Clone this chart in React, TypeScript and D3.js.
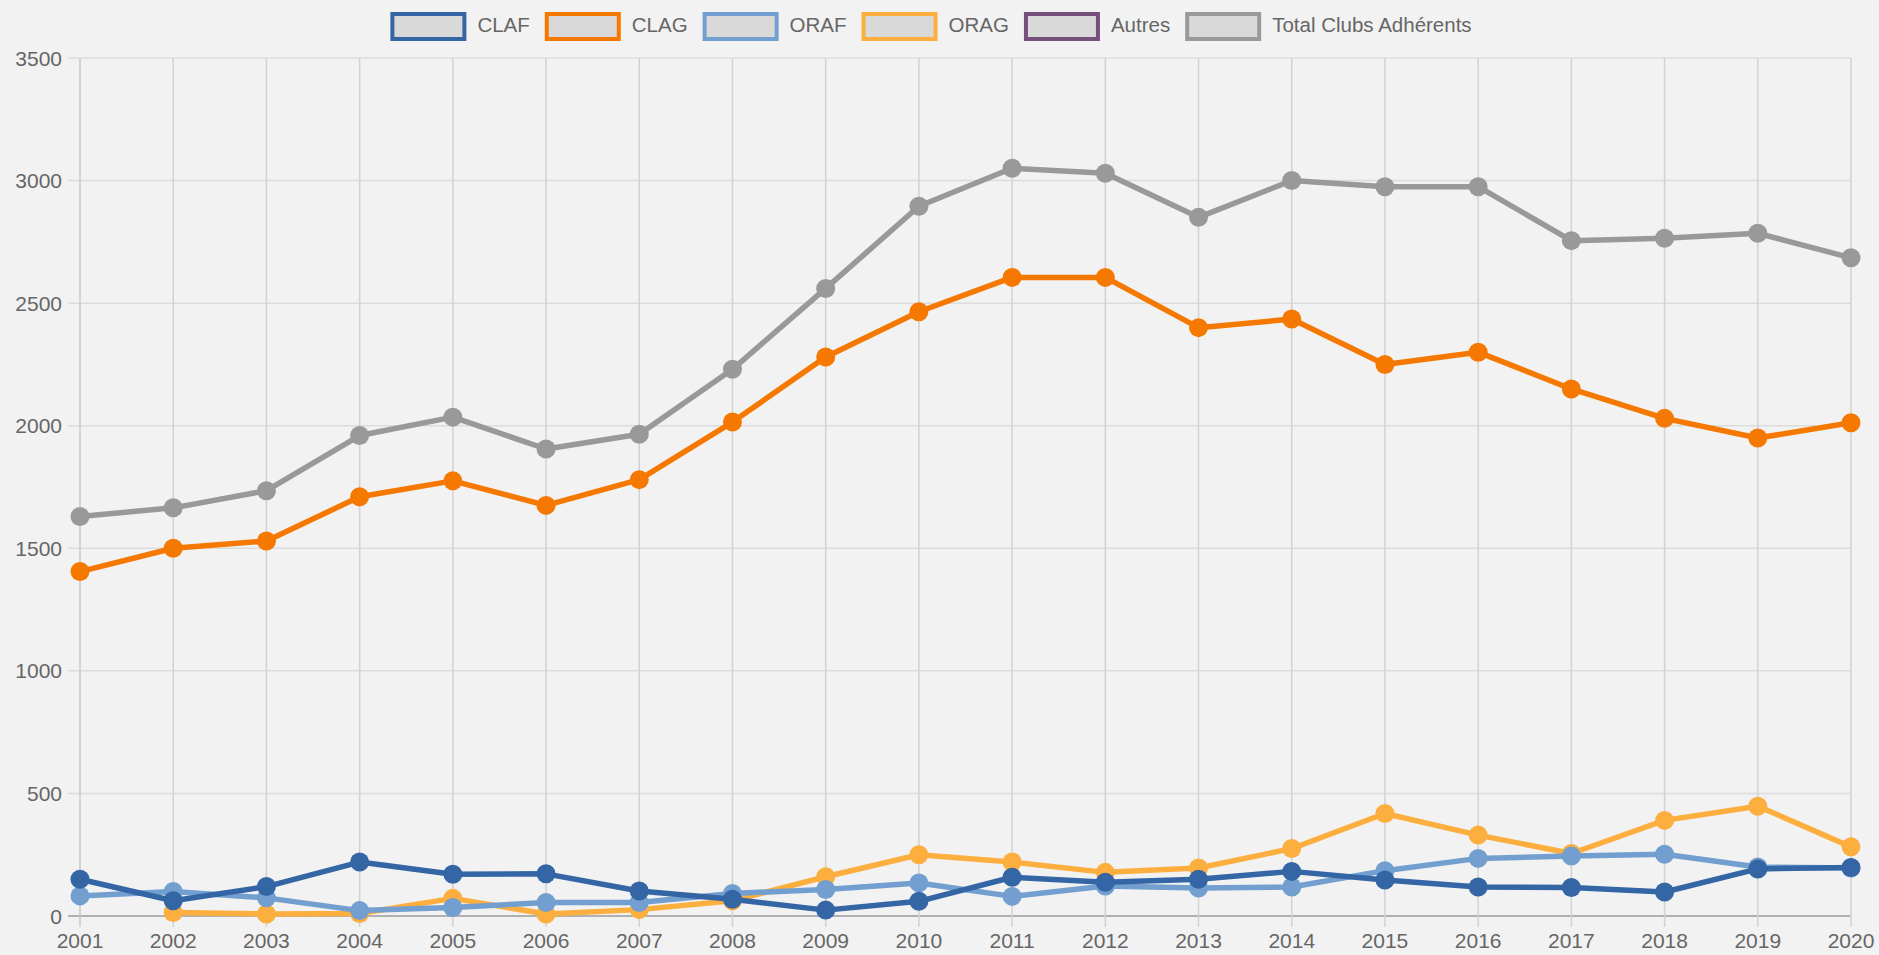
import { useEffect, useRef } from "react";
import * as d3 from "d3";

const years = [
  "2001", "2002", "2003", "2004", "2005", "2006", "2007", "2008", "2009", "2010",
  "2011", "2012", "2013", "2014", "2015", "2016", "2017", "2018", "2019", "2020",
];

const claf = [150, 62, 120, 220, 170, 172, 102, 68, 24, 60, 158, 138, 150, 182, 147, 118, 116, 98, 192, 198];
const clag = [1405, 1500, 1530, 1710, 1775, 1675, 1780, 2015, 2280, 2465, 2605, 2605, 2400, 2435, 2250, 2300, 2150, 2030, 1950, 2012];
const oraf = [82, 100, 74, 22, 35, 55, 55, 92, 108, 135, 80, 122, 114, 118, 185, 235, 245, 252, 200, 196];
const orag = [null, 14, 8, 10, 72, 8, 26, 62, 160, 250, 220, 178, 196, 275, 418, 330, 255, 390, 448, 282];
const autres: (number | null)[] = [];
const total = [1630, 1665, 1735, 1960, 2035, 1905, 1965, 2230, 2560, 2895, 3050, 3030, 2850, 3000, 2975, 2975, 2755, 2765, 2785, 2685];

const yTicks = [0, 500, 1000, 1500, 2000, 2500, 3000, 3500];

const series = [
  { name: "CLAF", color: "#3465a4", values: claf },
  { name: "CLAG", color: "#f57900", values: clag },
  { name: "ORAF", color: "#729fcf", values: oraf },
  { name: "ORAG", color: "#fcaf3e", values: orag },
  { name: "Autres", color: "#75507b", values: autres },
  { name: "Total Clubs Adhérents", color: "#999999", values: total },
];

const width = 1879;
const height = 955;
const marginLeft = 80;
const marginRight = 28;
const marginTop = 58;
const marginBottom = 39;
const font = "'Liberation Sans', Arial, sans-serif";

const App = () => {
  const ref = useRef<SVGSVGElement>(null);

  useEffect(() => {
    document.body.style.margin = "0";
    document.body.style.background = "#f2f2f2";

    const svg = d3.select(ref.current);
    svg.selectAll("*").remove();

    const x = d3
      .scalePoint()
      .domain(years)
      .range([marginLeft, width - marginRight]);
    const y = d3.scaleLinear([0, 3500], [height - marginBottom, marginTop]);

    svg.append("rect").attr("width", width).attr("height", height).attr("fill", "#f2f2f2");

    // grid
    const grid = svg.append("g");
    grid
      .selectAll("line.h")
      .data(yTicks)
      .join("line")
      .attr("x1", marginLeft - 12)
      .attr("x2", width - marginRight)
      .attr("y1", (d) => y(d))
      .attr("y2", (d) => y(d))
      .attr("stroke", (d) => (d === 0 ? "#9a9a9a" : "#dcdcdc"))
      .attr("stroke-width", 1.5);
    grid
      .selectAll("line.v")
      .data(years)
      .join("line")
      .attr("x1", (d) => x(d)!)
      .attr("x2", (d) => x(d)!)
      .attr("y1", marginTop)
      .attr("y2", height - marginBottom + 11)
      .attr("stroke", (d, i) => (i === 0 ? "#c8c8c8" : "#d2d2d2"))
      .attr("stroke-width", 1.5);

    // axis labels
    svg
      .append("g")
      .selectAll("text")
      .data(yTicks)
      .join("text")
      .attr("x", marginLeft - 18)
      .attr("y", (d) => y(d))
      .attr("dy", "0.36em")
      .attr("text-anchor", "end")
      .attr("font-family", font)
      .attr("font-size", 21)
      .attr("fill", "#666")
      .text((d) => d);
    svg
      .append("g")
      .selectAll("text")
      .data(years)
      .join("text")
      .attr("x", (d) => x(d)!)
      .attr("y", height - 7)
      .attr("text-anchor", "middle")
      .attr("font-family", font)
      .attr("font-size", 21)
      .attr("fill", "#666")
      .text((d) => d);

    // series, drawn last-first so CLAF ends on top
    const line = d3
      .line<number | null>()
      .defined((d) => d != null)
      .x((d, i) => x(years[i])!)
      .y((d) => y(d as number));

    [...series].reverse().forEach((s) => {
      const g = svg.append("g");
      g.append("path")
        .attr("d", line(s.values) || "")
        .attr("fill", "none")
        .attr("stroke", s.color)
        .attr("stroke-width", 5.5)
        .attr("stroke-linejoin", "round");
      g.selectAll("circle")
        .data(s.values.map((v, i) => ({ v, i })).filter((d) => d.v != null))
        .join("circle")
        .attr("cx", (d) => x(years[d.i])!)
        .attr("cy", (d) => y(d.v as number))
        .attr("r", 9.5)
        .attr("fill", s.color);
    });

    // legend
    const legend = svg.append("g");
    const items = series.map((s) => {
      const g = legend.append("g");
      g.append("rect")
        .attr("x", 2)
        .attr("y", 14)
        .attr("width", 72)
        .attr("height", 25)
        .attr("fill", "#d9d9d9")
        .attr("stroke", s.color)
        .attr("stroke-width", 4);
      const t = g
        .append("text")
        .attr("x", 87)
        .attr("y", 32)
        .attr("font-family", font)
        .attr("font-size", 20.5)
        .attr("fill", "#666")
        .text(s.name);
      const w = 87 + (t.node() as SVGTextElement).getComputedTextLength();
      return { g, w };
    });
    const gap = 15;
    const totalW = d3.sum(items, (d) => d.w) + gap * (items.length - 1);
    let cx = 931 - totalW / 2;
    items.forEach((it) => {
      it.g.attr("transform", `translate(${cx},0)`);
      cx += it.w + gap;
    });
  }, []);

  return (
    <div style={{ position: "absolute", left: 0, top: 0 }}>
      <svg ref={ref} width={width} height={height} style={{ display: "block" }} />
    </div>
  );
};

export default App;
